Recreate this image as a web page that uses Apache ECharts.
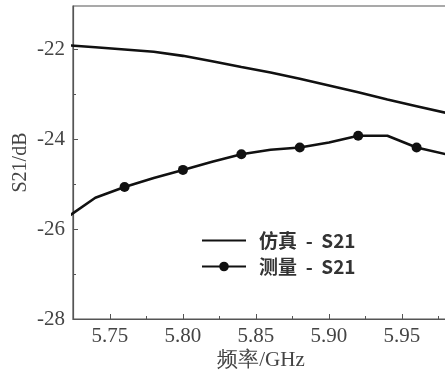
<!DOCTYPE html>
<html>
<head>
<meta charset="utf-8">
<script src="https://cdn.jsdelivr.net/npm/echarts@6/dist/echarts.min.js"></script>
<style>
html,body{margin:0;padding:0;background:#fff;}
#c{width:445px;height:375px;}
</style>
</head>
<body>
<div id="c"></div>
<script>
// Data
const freq = [5.72, 5.74, 5.76, 5.78, 5.80, 5.82, 5.84, 5.86, 5.88, 5.90, 5.92, 5.94, 5.96, 5.98, 6.00];
const simS21 = [-21.90, -21.95, -22.00, -22.05, -22.14, -22.26, -22.39, -22.51, -22.65, -22.80, -22.95, -23.11, -23.26, -23.41, -23.56];
const measS21 = [-25.75, -25.30, -25.06, -24.86, -24.68, -24.50, -24.33, -24.23, -24.18, -24.07, -23.92, -23.92, -24.18, -24.33, -24.45];
const markerFreq = [5.76, 5.80, 5.84, 5.88, 5.92, 5.96];
const xTicks = [5.75, 5.80, 5.85, 5.90, 5.95];
const xMinorTicks = [5.775, 5.825, 5.875, 5.925, 5.975];
const yTicks = [-28, -26, -24, -22];
const yMinorTicks = [-27, -25, -23];
const seriesNames = ['仿真  -  S21', '测量  -  S21'];

const XMIN = 5.7247, XMAX = 6.0, YMIN = -28, YMAX = -21.03;
const axisColor = '#555';
const serif = '"Liberation Serif","Times New Roman",serif';

const chart = echarts.init(document.getElementById('c'));
const simData = freq.map((f, i) => [f, simS21[i]]);
const measData = freq.map((f, i) => {
  const isMarker = markerFreq.some(m => Math.abs(m - f) < 1e-6);
  return isMarker ? { value: [f, measS21[i]] } : { value: [f, measS21[i]], symbol: 'none' };
});

chart.setOption({
  animation: false,
  grid: { left: 73, top: 6, right: -30, bottom: 56, outerBoundsMode: 'none', containLabel: false,
          show: true, borderColor: axisColor, borderWidth: 1.2, backgroundColor: 'transparent' },
  legend: {
    orient: 'vertical', left: 201, top: 231, padding: 0, itemWidth: 44, itemHeight: 12, itemGap: 7,
    textStyle: { fontFamily: '"Noto Sans CJK SC", sans-serif', fontSize: 19, fontWeight: 'bold', color: '#333', padding: [0, 0, 0, 8] },
    data: [{ name: seriesNames[0], itemStyle: { opacity: 0 } }, { name: seriesNames[1] }]
  },
  xAxis: [{
    type: 'value', min: XMIN, max: XMAX, position: 'bottom',
    axisLine: { show: true, lineStyle: { color: axisColor, width: 1.2 } },
    axisTick: { show: true, inside: true, length: 5, customValues: xTicks, lineStyle: { color: axisColor } },
    axisLabel: { customValues: xTicks, formatter: v => v.toFixed(2), fontFamily: serif, fontSize: 21, color: '#444', margin: 7 },
    splitLine: { show: false },
    name: '频率/GHz', nameLocation: 'middle', nameGap: 31, nameMoveOverlap: false,
    nameTextStyle: { fontFamily: serif, fontSize: 21, color: '#444', padding: [0, 26, 0, 0] }
  }, {
    type: 'value', min: XMIN, max: XMAX, position: 'bottom',
    axisLine: { show: false },
    axisTick: { show: true, inside: true, length: 3, customValues: xMinorTicks, lineStyle: { color: axisColor } },
    axisLabel: { show: false }, splitLine: { show: false }
  }],
  yAxis: [{
    type: 'value', min: YMIN, max: YMAX,
    axisLine: { show: true, lineStyle: { color: axisColor, width: 1.2 } },
    axisTick: { show: true, inside: true, length: 5, customValues: yTicks, lineStyle: { color: axisColor } },
    axisLabel: { customValues: yTicks, fontFamily: serif, fontSize: 21, color: '#444', margin: 8 },
    splitLine: { show: false },
    name: 'S21/dB', nameLocation: 'middle', nameGap: 42, nameMoveOverlap: false,
    nameTextStyle: { fontFamily: serif, fontSize: 20, color: '#444' }
  }, {
    type: 'value', min: YMIN, max: YMAX, position: 'left',
    axisLine: { show: false },
    axisTick: { show: true, inside: true, length: 3, customValues: yMinorTicks, lineStyle: { color: axisColor } },
    axisLabel: { show: false }, splitLine: { show: false }
  }],
  series: [{
    name: seriesNames[0], type: 'line', data: simData, symbol: 'none',
    lineStyle: { color: '#111', width: 2.6 }, itemStyle: { color: '#111' }, clip: true
  }, {
    name: seriesNames[1], type: 'line', data: measData, symbol: 'circle', symbolSize: 10,
    lineStyle: { color: '#111', width: 2.6 }, itemStyle: { color: '#111' }, clip: true
  }]
});
</script>
</body>
</html>
